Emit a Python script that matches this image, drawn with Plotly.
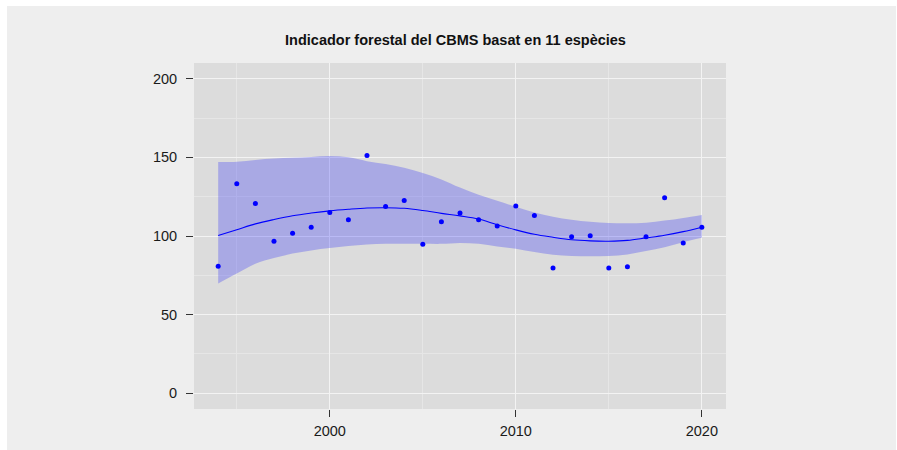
import plotly.graph_objects as go

years = list(range(1994, 2021))
index_values = [80.8, 133.3, 120.7, 96.7, 101.8, 105.6, 115.0, 110.4, 151.2, 118.8,
                122.6, 94.8, 109.0, 114.6, 110.4, 106.4, 119.0, 113.1, 79.7, 99.5,
                100.1, 79.7, 80.5, 99.5, 124.3, 95.5, 105.6]
trend = [100.3, 104.0, 107.7, 110.5, 112.9, 114.6, 116.0, 117.0, 117.8, 118.0,
         117.6, 116.2, 114.4, 112.8, 110.8, 107.2, 103.9, 101.1, 99.2, 97.6,
         96.9, 96.7, 97.2, 98.8, 100.5, 102.8, 105.6]
upper = [147.0, 147.2, 148.4, 149.2, 149.7, 150.3, 150.8, 150.0, 147.6, 145.8,
         143.4, 140.0, 136.0, 130.8, 126.2, 122.4, 118.6, 115.0, 112.3, 110.4,
         109.1, 108.3, 108.1, 108.5, 109.8, 111.5, 113.4]
lower = [69.8, 76.1, 82.4, 86.0, 88.8, 90.8, 92.3, 93.6, 94.6, 95.0,
         95.1, 95.1, 95.0, 95.6, 95.0, 93.4, 91.9, 89.8, 88.1, 87.3,
         87.1, 87.3, 88.3, 90.4, 92.9, 96.1, 98.9]

title_text = "Indicador forestal del CBMS basat en 11 espècies"

W, H = 897, 450
L, R, T, B = 194, 726, 63, 409


def xp(px):
    return (px - L) / (R - L)


def yp(py):
    return (B - py) / (B - T)


fig = go.Figure()
fig.add_trace(go.Scatter(x=years, y=lower, mode="lines", line=dict(width=0, shape="spline"),
                         hoverinfo="skip", showlegend=False))
fig.add_trace(go.Scatter(x=years, y=upper, mode="lines", line=dict(width=0, shape="spline"),
                         fill="tonexty", fillcolor="rgba(0,0,255,0.23)",
                         hoverinfo="skip", showlegend=False))
fig.add_trace(go.Scatter(x=years, y=trend, mode="lines",
                         line=dict(color="#0000ff", width=1.1, shape="spline"),
                         showlegend=False))
fig.add_trace(go.Scatter(x=years, y=index_values, mode="markers",
                         marker=dict(color="#0000ff", size=5),
                         showlegend=False))

font_family = "Liberation Sans, Arial, sans-serif"

fig.update_layout(
    width=W, height=H,
    margin=dict(l=L, r=W - R, t=T, b=H - B, pad=0),
    paper_bgcolor="#eeeeee",
    plot_bgcolor="#dcdcdc",
    font=dict(family=font_family, size=14, color="#1a1a1a"),
    title=dict(text="<b>" + title_text + "</b>", font=dict(size=14.5, color="#111111"),
               xref="paper", x=xp(455.5), xanchor="center",
               yref="container", y=1 - 40 / H, yanchor="middle"),
    showlegend=False,
    shapes=[
        dict(type="rect", xref="paper", yref="paper", x0=xp(0), x1=xp(7), y0=yp(0), y1=yp(H),
             fillcolor="white", line=dict(width=0), layer="above"),
        dict(type="rect", xref="paper", yref="paper", x0=xp(0), x1=xp(W), y0=yp(0), y1=yp(6),
             fillcolor="white", line=dict(width=0), layer="above"),
        dict(type="rect", xref="paper", yref="paper", x0=xp(896), x1=xp(W), y0=yp(0), y1=yp(H),
             fillcolor="white", line=dict(width=0), layer="above"),
    ],
)

fig.update_xaxes(
    range=[1992.7, 2021.3], tick0=2000, dtick=10,
    showgrid=True, gridcolor="#f3f3f3", gridwidth=1.3,
    minor=dict(dtick=5, tick0=2000, showgrid=True, gridcolor="#e6e6e6", gridwidth=0.6),
    ticks="outside", ticklen=7, tickcolor="#333333", tickwidth=1.1,
    zeroline=False, showline=False, tickfont=dict(size=14.5), ticklabelstandoff=2,
)
fig.update_yaxes(
    range=[-10, 210], tick0=0, dtick=50,
    showgrid=True, gridcolor="#f3f3f3", gridwidth=1.3,
    minor=dict(dtick=25, tick0=0, showgrid=True, gridcolor="#e6e6e6", gridwidth=0.6),
    ticks="outside", ticklen=7, tickcolor="#333333", tickwidth=1.1,
    zeroline=False, showline=False, tickfont=dict(size=14.5), ticklabelstandoff=6,
)

fig.write_html(
    "out.html",
    config={"displayModeBar": False},
    post_script="document.body.style.margin='0';document.body.style.overflow='hidden';",
)
